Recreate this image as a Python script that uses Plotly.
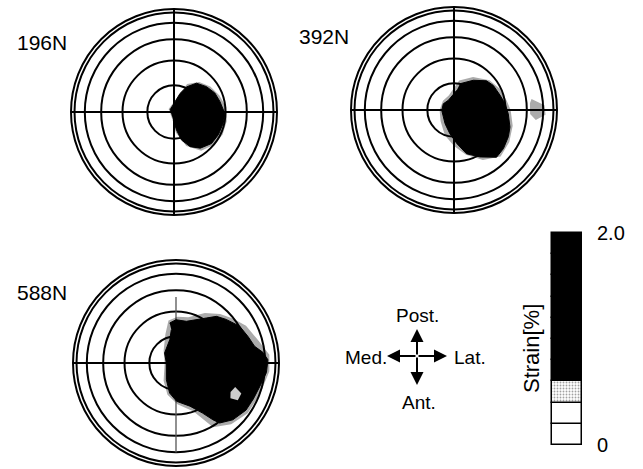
import plotly.graph_objects as go
import numpy as np

# ---- data -------------------------------------------------------------
loads = ["196N", "392N", "588N"]

# boundary of the high-strain zone (>0.6 %), polar angle [deg] / projected radius
core_196_theta = [153, 84, 72, 63, 52, 38, 25, 13, -2, -13, -27, -40, -54, -65, -75, -82, -95]
core_196_r = [0.044, 0.10, 0.19, 0.275, 0.355, 0.40, 0.437, 0.457, 0.495, 0.49, 0.484, 0.476, 0.434, 0.371, 0.282, 0.177, 0.078]

core_392_theta = [77, 57, 42, 32, 18, 7, 356, 343, 334, 322, 312, 299, 286, 275, 260, 237, 182, 150, 120, 82]
core_392_r = [0.262, 0.344, 0.424, 0.45, 0.469, 0.50, 0.528, 0.568, 0.588, 0.609, 0.617, 0.521, 0.442, 0.328, 0.233, 0.159, 0.119, 0.12, 0.109, 0.193]

core_588_theta = [99, 90, 76, 56, 49, 41, 30, 20, 12, 7, 2, 354, 344, 335, 326, 315, 306, 303, 298, 288, 271, 258, 240, 180, 139, 105, 98]
core_588_r = [0.393, 0.42, 0.417, 0.527, 0.60, 0.645, 0.714, 0.746, 0.78, 0.85, 0.893, 0.883, 0.844, 0.828, 0.819, 0.78, 0.72, 0.657, 0.551, 0.441, 0.372, 0.298, 0.187, 0.094, 0.147, 0.234, 0.326]

# transition zone (0.4-0.6 %)
halo_196_theta = [150, 80, 65, 50, 35, 20, 5, 350, 335, 320, 305, 290, 275, 260]
halo_196_r = [0.06, 0.13, 0.30, 0.38, 0.43, 0.47, 0.51, 0.52, 0.52, 0.50, 0.46, 0.35, 0.20, 0.08]

halo_392_theta = [80, 60, 40, 25, 10, 0, 345, 330, 315, 300, 285, 270, 250, 220, 180, 140, 110, None, 8, 3, 357, 353, 357, 5]
halo_392_r = [0.29, 0.37, 0.45, 0.49, 0.52, 0.55, 0.59, 0.62, 0.64, 0.56, 0.45, 0.35, 0.26, 0.17, 0.14, 0.14, 0.15, None, 0.76, 0.88, 0.89, 0.80, 0.74, 0.74]

halo_588_theta = [100, 88, 75, 60, 48, 38, 28, 15, 5, 355, 340, 325, 312, 300, 290, 272, 255, 235, 180, 135, 110]
halo_588_r = [0.42, 0.45, 0.46, 0.56, 0.64, 0.70, 0.77, 0.83, 0.91, 0.91, 0.87, 0.85, 0.80, 0.72, 0.50, 0.40, 0.32, 0.21, 0.11, 0.17, 0.30]

# low-strain pocket inside the 588N zone
hole_588_theta = [-22, -25, -31, -33, -28]
hole_588_r = [0.62, 0.70, 0.70, 0.63, 0.60]

# strain scale [%]
strain_edges = [0.0, 0.2, 0.4, 0.6, 0.8, 1.0, 1.2, 1.4, 1.6, 1.8, 2.0]
strain_ticks = [0, 2.0]
strain_ticktext = ["0", "2.0"]

# latitude rings of the hemispherical projection [deg from pole]
ring_angles = [15, 30, 45, 60, 75]

# ---- layout -----------------------------------------------------------
W, H = 643, 469
FONT = "Liberation Sans, Arial, sans-serif"

def px_dom(cx, cy, R):
    return dict(x=[(cx - R) / W, (cx + R) / W], y=[1 - (cy + R) / H, 1 - (cy - R) / H])

panels = [
    dict(name="polar", dom=px_dom(174, 112, 103), label=(42, 42),
         core=(core_196_theta, core_196_r), halo=(halo_196_theta, halo_196_r),
         hole=None, axis_dirs=[0, 90, 180, 270], ap_line=None),
    dict(name="polar2", dom=px_dom(454, 110, 103), label=(324, 37),
         core=(core_392_theta, core_392_r), halo=(halo_392_theta, halo_392_r),
         hole=None, axis_dirs=[0, 90, 180, 270], ap_line=None),
    # on the 588N map the antero-posterior reference line is shorter
    dict(name="polar3", dom=px_dom(176, 363, 103), label=(42, 292),
         core=(core_588_theta, core_588_r), halo=(halo_588_theta, halo_588_r),
         hole=(hole_588_theta, hole_588_r), axis_dirs=[0, 180],
         ap_line=([90, 270], [0.64, 0.87])),
]

fig = go.Figure()
ring_r = list(np.sin(np.radians(ring_angles)))

def label(text, x, y, size, **kw):
    return dict(text=text, x=x / W, y=1 - y / H, xref="paper", yref="paper",
                xanchor="center", yanchor="middle", showarrow=False,
                font=dict(family=FONT, size=size, color="black"), **kw)

layout_polars = {}
annotations = []
for load, p in zip(loads, panels):
    sub = p["name"]
    ht, hr = p["halo"]
    ct, cr = p["core"]
    if p["ap_line"] is not None:
        fig.add_trace(go.Scatterpolar(theta=p["ap_line"][0], r=p["ap_line"][1], mode="lines",
                                      line=dict(color="#555", width=1.3), subplot=sub,
                                      showlegend=False, hoverinfo="skip"))
    fig.add_trace(go.Scatterpolar(theta=ht, r=hr, mode="lines", fill="toself",
                                  fillcolor="rgba(0,0,0,0.33)", line=dict(width=0),
                                  subplot=sub, showlegend=False, hoverinfo="skip"))
    fig.add_trace(go.Scatterpolar(theta=ct, r=cr, mode="lines", fill="toself",
                                  fillcolor="black", line=dict(color="black", width=1),
                                  subplot=sub, showlegend=False))
    if p["hole"] is not None:
        fig.add_trace(go.Scatterpolar(theta=p["hole"][0], r=p["hole"][1], mode="lines",
                                      fill="toself", fillcolor="rgba(255,255,255,0.8)",
                                      line=dict(width=0), subplot=sub, showlegend=False,
                                      hoverinfo="skip"))
    layout_polars[sub] = dict(
        domain=p["dom"], bgcolor="white",
        radialaxis=dict(range=[0, 1], tickmode="array", tickvals=ring_r,
                        showgrid=True, gridcolor="black", gridwidth=1.5,
                        showline=False, showticklabels=False, ticks=""),
        angularaxis=dict(rotation=0, direction="counterclockwise",
                         tickmode="array", tickvals=p["axis_dirs"],
                         showgrid=True, gridcolor="black", gridwidth=1.5,
                         showline=True, linecolor="black", linewidth=2,
                         showticklabels=False, ticks=""),
    )
    lx, ly = p["label"]
    annotations.append(label(load, lx, ly, 21))

# strain scale drawn as stacked segments
seg_colors = ["white", "white", "white"] + ["black"] * 7
seg_shapes = ["", "", "."] + [""] * 7
fig.add_trace(go.Bar(
    x=[0] * (len(strain_edges) - 1),
    y=list(np.diff(strain_edges)),
    base=strain_edges[:-1],
    width=1,
    marker=dict(color=seg_colors, line=dict(color="black", width=1.5),
                pattern=dict(shape=seg_shapes, fgcolor="black", bgcolor="white",
                             size=3, solidity=0.3)),
    showlegend=False, hoverinfo="skip", xaxis="x", yaxis="y",
))
for v, t in zip(strain_ticks, strain_ticktext):
    annotations.append(dict(text=t, x=0.5, y=v, xref="x", yref="y", xanchor="left",
                            yanchor="middle", xshift=13, showarrow=False,
                            font=dict(family=FONT, size=20, color="black")))
annotations.append(label("Strain[%]", 531, 349, 22, textangle=-90))

# orientation key
cx, cy = 417, 356
for dx, dy in [(0, -27), (0, 29), (-30, 0), (30, 0)]:
    annotations.append(dict(x=(cx + dx) / W, y=1 - (cy + dy) / H, xref="paper", yref="paper",
                            ax=-dx, ay=-dy, axref="pixel", ayref="pixel", text="",
                            showarrow=True, arrowhead=2, arrowsize=1.3, arrowwidth=2,
                            arrowcolor="black"))
for txt, x, y in [("Post.", 417, 315), ("Ant.", 419, 402), ("Med.", 366, 357), ("Lat.", 470, 357)]:
    annotations.append(label(txt, x, y, 19))

fig.update_layout(
    width=W, height=H, margin=dict(l=0, r=0, t=0, b=0),
    paper_bgcolor="white", plot_bgcolor="white",
    xaxis=dict(domain=[550 / W, 584 / W], range=[-0.567, 0.567], visible=False, fixedrange=True),
    yaxis=dict(domain=[1 - 447 / H, 1 - 231 / H], range=[-0.019, 2.019], visible=False, fixedrange=True),
    barmode="overlay", bargap=0,
    annotations=annotations,
    **layout_polars,
)

fig.write_html("out.html")
